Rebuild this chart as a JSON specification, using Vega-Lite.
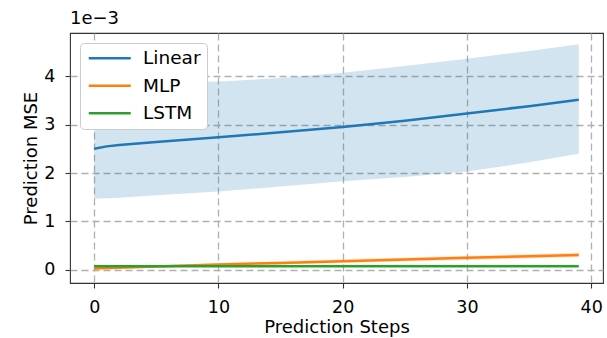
{
  "$schema": "https://vega.github.io/schema/vega-lite/v6.json",
  "width": 533,
  "height": 250,
  "autosize": {"type": "none"},
  "padding": {"left": 70, "top": 33, "right": 4, "bottom": 55},
  "title": {"text": "1e−3", "anchor": "start", "frame": "group", "fontSize": 18, "fontWeight": "normal", "font": "DejaVu Sans", "color": "#000", "offset": 5},
  "config": {
    "view": {"stroke": "#333", "strokeWidth": 1.1},
    "font": "DejaVu Sans",
    "axis": {
      "labelFont": "DejaVu Sans", "labelFontSize": 17.5, "labelColor": "#000",
      "titleFont": "DejaVu Sans", "titleFontSize": 18, "titleFontWeight": "normal", "titleColor": "#000",
      "tickSize": 5, "tickColor": "#333", "tickWidth": 1.1, "labelPadding": 10, "titlePadding": 3,
      "domain": false, "grid": true, "gridColor": "#b0b0b0", "gridDash": [7, 4], "gridWidth": 1.3, "zindex": 1
    }
  },
  "data": {"values": [
    {"step": 0, "model": "Linear", "mean": 2.50, "lo": 1.47, "hi": 3.86},
    {"step": 1, "model": "Linear", "mean": 2.55, "lo": 1.48, "hi": 3.86},
    {"step": 2, "model": "Linear", "mean": 2.58, "lo": 1.49, "hi": 3.86},
    {"step": 5, "model": "Linear", "mean": 2.64, "lo": 1.54, "hi": 3.87},
    {"step": 10, "model": "Linear", "mean": 2.74, "lo": 1.62, "hi": 3.89},
    {"step": 15, "model": "Linear", "mean": 2.84, "lo": 1.72, "hi": 3.96},
    {"step": 20, "model": "Linear", "mean": 2.95, "lo": 1.83, "hi": 4.07},
    {"step": 25, "model": "Linear", "mean": 3.08, "lo": 1.92, "hi": 4.21},
    {"step": 30, "model": "Linear", "mean": 3.23, "lo": 2.03, "hi": 4.36},
    {"step": 35, "model": "Linear", "mean": 3.38, "lo": 2.22, "hi": 4.52},
    {"step": 39, "model": "Linear", "mean": 3.51, "lo": 2.40, "hi": 4.66},
    {"step": 0, "model": "MLP", "mean": 0.03, "lo": 0.01, "hi": 0.05},
    {"step": 5, "model": "MLP", "mean": 0.07, "lo": 0.045, "hi": 0.095},
    {"step": 10, "model": "MLP", "mean": 0.11, "lo": 0.08, "hi": 0.14},
    {"step": 15, "model": "MLP", "mean": 0.145, "lo": 0.11, "hi": 0.18},
    {"step": 20, "model": "MLP", "mean": 0.18, "lo": 0.145, "hi": 0.22},
    {"step": 25, "model": "MLP", "mean": 0.215, "lo": 0.175, "hi": 0.255},
    {"step": 30, "model": "MLP", "mean": 0.25, "lo": 0.205, "hi": 0.29},
    {"step": 35, "model": "MLP", "mean": 0.28, "lo": 0.235, "hi": 0.325},
    {"step": 39, "model": "MLP", "mean": 0.31, "lo": 0.26, "hi": 0.36},
    {"step": 0, "model": "LSTM", "mean": 0.075, "lo": 0.06, "hi": 0.105},
    {"step": 5, "model": "LSTM", "mean": 0.075, "lo": 0.06, "hi": 0.105},
    {"step": 10, "model": "LSTM", "mean": 0.075, "lo": 0.06, "hi": 0.105},
    {"step": 15, "model": "LSTM", "mean": 0.075, "lo": 0.06, "hi": 0.105},
    {"step": 20, "model": "LSTM", "mean": 0.075, "lo": 0.06, "hi": 0.105},
    {"step": 25, "model": "LSTM", "mean": 0.075, "lo": 0.06, "hi": 0.105},
    {"step": 30, "model": "LSTM", "mean": 0.075, "lo": 0.06, "hi": 0.105},
    {"step": 35, "model": "LSTM", "mean": 0.075, "lo": 0.06, "hi": 0.105},
    {"step": 39, "model": "LSTM", "mean": 0.075, "lo": 0.06, "hi": 0.105}
  ]},
  "layer": [
    {
      "mark": {"type": "area", "fillOpacity": 0.2, "stroke": null},
      "encoding": {
        "x": {"field": "step", "type": "quantitative", "title": "Prediction Steps",
          "scale": {"domain": [-1.95, 40.95], "nice": false, "zero": false},
          "axis": {"values": [0, 10, 20, 30, 40], "format": "d"}},
        "y": {"field": "lo", "type": "quantitative", "title": "Prediction MSE",
          "scale": {"domain": [-0.27, 4.89], "nice": false, "zero": false},
          "axis": {"values": [0, 1, 2, 3, 4], "format": "d"}},
        "y2": {"field": "hi"},
        "color": {"field": "model", "type": "nominal",
          "scale": {"domain": ["Linear", "MLP", "LSTM"], "range": ["#1f77b4", "#ff7f0e", "#2ca02c"]},
          "legend": {"title": null, "orient": "none", "legendX": 10, "legendY": 10, "direction": "vertical",
            "symbolType": "M-3,0H3", "symbolStrokeWidth": 2.5, "symbolSize": 196, "symbolOpacity": 1, "symbolOffset": 14.5,
            "rowPadding": 8.5, "padding": 6, "labelFont": "DejaVu Sans", "labelFontSize": 18.5, "labelColor": "#000", "labelOffset": 24,
            "strokeColor": "#cccccc", "fillColor": "white", "cornerRadius": 4, "zindex": 2}}
      }
    },
    {
      "mark": {"type": "line", "strokeWidth": 2.5},
      "encoding": {
        "x": {"field": "step", "type": "quantitative"},
        "y": {"field": "mean", "type": "quantitative"},
        "color": {"field": "model", "type": "nominal"}
      }
    }
  ]
}
